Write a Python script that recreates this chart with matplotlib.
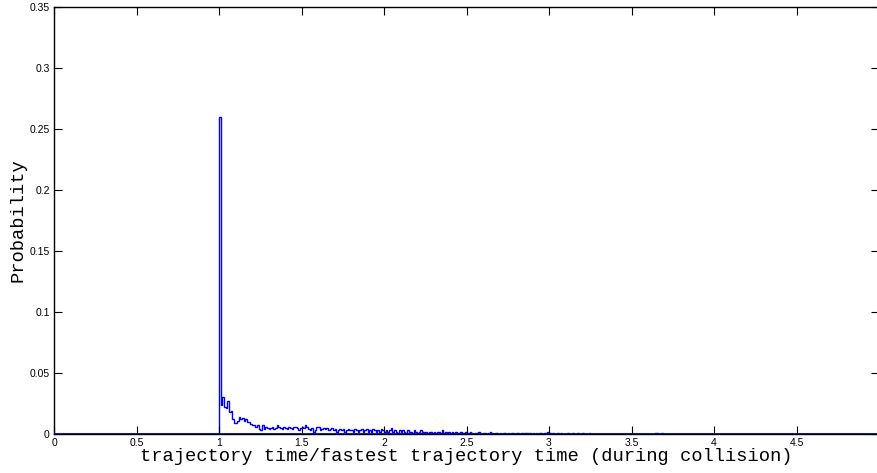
import numpy as np
import matplotlib
matplotlib.use("Agg")
import matplotlib.pyplot as plt

# histogram of trajectory time ratio, bins of width 0.01 on [0, 5]
bin_width = 0.01
start_bin = 1.00
probs = [
    0.260, 0.024, 0.030, 0.022, 0.021, 0.027, 0.018, 0.019, 0.012, 0.009,
    0.009, 0.011, 0.014, 0.012, 0.013, 0.011, 0.012, 0.010, 0.010, 0.008,
    0.007, 0.007, 0.006, 0.007, 0.004, 0.003, 0.007, 0.004, 0.006, 0.005,
    0.004, 0.005, 0.006, 0.004, 0.005, 0.007, 0.006, 0.005, 0.004, 0.006,
    0.005, 0.004, 0.006, 0.005, 0.004, 0.006, 0.006, 0.005, 0.003, 0.005,
    0.006, 0.005, 0.007, 0.006, 0.004, 0.003, 0.005, 0.002, 0.003, 0.006,
    0.006, 0.003, 0.004, 0.005, 0.004, 0.005, 0.003, 0.004, 0.005, 0.003,
    0.004, 0.002, 0.003, 0.004, 0.003, 0.004, 0.002, 0.003, 0.004, 0.003,
    0.003, 0.002, 0.004, 0.003, 0.002, 0.003, 0.004, 0.002, 0.003, 0.004,
    0.002, 0.003, 0.002, 0.004, 0.003, 0.002, 0.003, 0.002, 0.004, 0.003,
    0.002, 0.003, 0.002, 0.003, 0.005, 0.002, 0.003, 0.002, 0.001, 0.003,
    0.002, 0.003, 0.002, 0.001, 0.003, 0.002, 0.002, 0.001, 0.003, 0.002,
    0.001, 0.002, 0.003, 0.002, 0.001, 0.002, 0.001, 0.002, 0.002, 0.001,
    0.002, 0.001, 0.002, 0.002, 0.001, 0.003, 0.001, 0.002, 0.001, 0.002,
    0.001, 0.002, 0.001, 0.002, 0.001, 0.001, 0.002, 0.001, 0.001, 0.002,
    0.001, 0.001, 0.002, 0.001, 0.000, 0.001, 0.001, 0.002, 0.001, 0.000,
    0.001, 0.001, 0.000, 0.001, 0.002, 0.001, 0.000, 0.001, 0.001, 0.000,
    0.001, 0.000, 0.001, 0.001, 0.000, 0.001, 0.000, 0.001, 0.001, 0.000,
    0.001, 0.001, 0.000, 0.001, 0.000, 0.001, 0.001, 0.000, 0.001, 0.000,
    0.001, 0.000, 0.001, 0.000, 0.001, 0.001, 0.000, 0.001, 0.000, 0.002,
    0.001, 0.000, 0.001, 0.000, 0.000, 0.001, 0.000, 0.001, 0.000, 0.000,
    0.000, 0.001, 0.000, 0.000, 0.001, 0.000, 0.000, 0.001, 0.000, 0.000,
    0.001, 0.000, 0.000, 0.000, 0.001, 0.000, 0.000, 0.000, 0.000, 0.000,
    0.000, 0.000, 0.000, 0.000, 0.000, 0.000, 0.000, 0.000, 0.000, 0.000,
    0.000, 0.000, 0.000, 0.000, 0.000, 0.000, 0.000, 0.000, 0.000, 0.000,
    0.000, 0.000, 0.000, 0.000, 0.000, 0.000, 0.000, 0.000, 0.000, 0.000,
    0.000, 0.000, 0.000, 0.000, 0.001, 0.001, 0.000, 0.000, 0.001, 0.000,
]
xticks = [0, 0.5, 1, 1.5, 2, 2.5, 3, 3.5, 4, 4.5, 5]
xticklabels = ['0', '0.5', '1', '1.5', '2', '2.5', '3', '3.5', '4', '4.5', '5']
yticks = [0, 0.05, 0.1, 0.15, 0.2, 0.25, 0.3, 0.35]
yticklabels = ['0', '0.05', '0.1', '0.15', '0.2', '0.25', '0.3', '0.35']

n_bins = int(round(5 / bin_width))
lead = int(round(start_bin / bin_width))
values = [0.0] * lead + probs
values = values + [0.0] * (n_bins - len(values))
edges = np.linspace(0, 5, n_bins + 1)

fig = plt.figure(figsize=(8.77, 4.73), dpi=100)
ax = fig.add_axes([0.0616, 0.0825, 0.9407, 0.9025])
ax.stairs(values, edges, color='#0000ff', linewidth=1.0)
ax.plot([0, 5], [0, 0], color='#0000cc', linewidth=2.0, zorder=3)

ax.set_xlim(0, 5)
ax.set_ylim(0, 0.35)
ax.set_xticks(xticks)
ax.set_xticklabels(xticklabels)
ax.set_yticks(yticks)
ax.set_yticklabels(yticklabels)
ax.tick_params(direction='in', length=5.5, width=0.8, top=True, right=True,
               labelsize=7.5, pad=3)
for lab in ax.get_xticklabels() + ax.get_yticklabels():
    lab.set_family('Liberation Sans')
for s in ax.spines.values():
    s.set_linewidth(1.0)

ax.set_xlabel('trajectory time/fastest trajectory time (during collision)',
              family='Liberation Mono', fontsize=13.5, labelpad=0)
ax.set_ylabel('Probability', family='Liberation Mono', fontsize=13.5, labelpad=2)

fig.savefig('out.png', dpi=100)
